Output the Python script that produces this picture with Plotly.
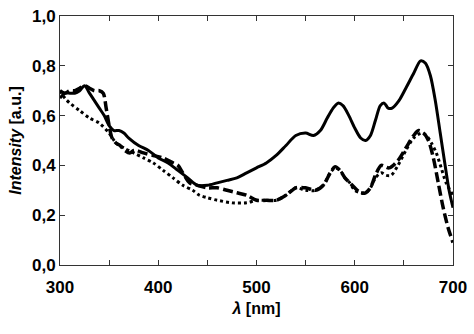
import plotly.graph_objects as go

solid_x = [300,305,310,315,320,325,330,335,340,345,350,355,360,365,370,380,390,400,410,420,430,440,450,460,470,480,490,500,510,520,530,540,550,558,565,572,578,583,588,594,600,606,611,616,621,626,630,634,638,645,652,660,667,672,677,682,687,692,696,700]
solid_y = [0.67,0.69,0.69,0.69,0.70,0.72,0.69,0.66,0.63,0.60,0.56,0.54,0.54,0.53,0.51,0.48,0.46,0.43,0.41,0.38,0.35,0.32,0.32,0.33,0.34,0.35,0.37,0.39,0.41,0.44,0.48,0.52,0.53,0.52,0.54,0.59,0.63,0.65,0.64,0.60,0.55,0.51,0.50,0.52,0.58,0.64,0.65,0.63,0.63,0.66,0.71,0.77,0.82,0.81,0.76,0.66,0.53,0.40,0.30,0.23]

dash_x = [300,305,310,315,320,325,330,335,340,344,347,350,353,357,361,366,371,375,378,385,395,405,415,420,425,432,440,450,460,470,480,490,500,510,520,530,540,550,560,568,575,580,585,590,595,600,606,611,616,621,627,635,644,652,660,665,670,675,680,685,690,695,700]
dash_y = [0.70,0.69,0.70,0.70,0.71,0.72,0.71,0.70,0.70,0.69,0.63,0.56,0.51,0.49,0.48,0.46,0.45,0.46,0.46,0.45,0.44,0.43,0.41,0.40,0.37,0.33,0.32,0.31,0.31,0.30,0.29,0.28,0.26,0.26,0.26,0.28,0.31,0.31,0.30,0.32,0.37,0.395,0.38,0.35,0.33,0.31,0.29,0.29,0.31,0.36,0.40,0.39,0.42,0.47,0.52,0.54,0.53,0.50,0.43,0.33,0.23,0.15,0.09]

dot_x = [300,305,310,320,330,340,350,357,365,375,385,395,405,415,425,435,442,450,460,475,490,500,510,520,530,540,550,560,568,575,580,585,590,595,600,606,611,616,621,627,632,637,644,652,660,668,673,678,683,688,693,700]
dot_y = [0.70,0.67,0.65,0.62,0.59,0.57,0.53,0.49,0.47,0.45,0.43,0.41,0.38,0.35,0.32,0.30,0.28,0.27,0.26,0.25,0.25,0.26,0.26,0.26,0.28,0.31,0.30,0.30,0.32,0.37,0.39,0.38,0.35,0.33,0.30,0.29,0.29,0.31,0.35,0.37,0.36,0.36,0.40,0.46,0.51,0.53,0.52,0.49,0.45,0.39,0.33,0.28]

x_ticks = [300, 400, 500, 600, 700]
y_ticks = [0.0, 0.2, 0.4, 0.6, 0.8, 1.0]

fig = go.Figure()
fig.add_trace(go.Scatter(x=dot_x, y=dot_y, mode="lines", line=dict(color="black", width=3, dash="dot", shape="spline", smoothing=0.8)))
fig.add_trace(go.Scatter(x=dash_x, y=dash_y, mode="lines", line=dict(color="black", width=3.5, dash="10px,4px", shape="spline", smoothing=0.8)))
fig.add_trace(go.Scatter(x=solid_x, y=solid_y, mode="lines", line=dict(color="black", width=3, shape="spline", smoothing=0.8)))

tickfont = dict(family="Liberation Sans", size=17, color="black", weight="bold")
titlefont = dict(family="Liberation Sans", size=16, color="black", weight="bold")

fig.update_layout(
    width=474, height=334,
    margin=dict(l=60, r=19, t=7, b=69),
    paper_bgcolor="white", plot_bgcolor="white",
    showlegend=False,
    separators=", ",
    xaxis=dict(range=[300, 700], tickvals=x_ticks, ticks="inside", ticklen=5, tickcolor="#333",
               minor=dict(dtick=50, tick0=300, ticks="inside", ticklen=5, tickcolor="#333"),
               showline=True, linecolor="#333", linewidth=1, mirror="ticks", showgrid=False, zeroline=False,
               ticklabelstandoff=7, ticklabeloverflow="allow",
               tickfont=tickfont, title=dict(text="<i>λ</i> [nm]", font=titlefont, standoff=6)),
    yaxis=dict(range=[0, 1.0], tickvals=y_ticks, tickformat=".1f", ticks="inside", ticklen=5, tickcolor="#333",
               showline=True, linecolor="#333", linewidth=1, mirror="ticks", showgrid=False, zeroline=False,
               ticklabeloverflow="allow",
               tickfont=tickfont, title=dict(text="<i>Intensity</i> [a.u.]", font=titlefont, standoff=6)),
)
fig.write_html("out.html")
